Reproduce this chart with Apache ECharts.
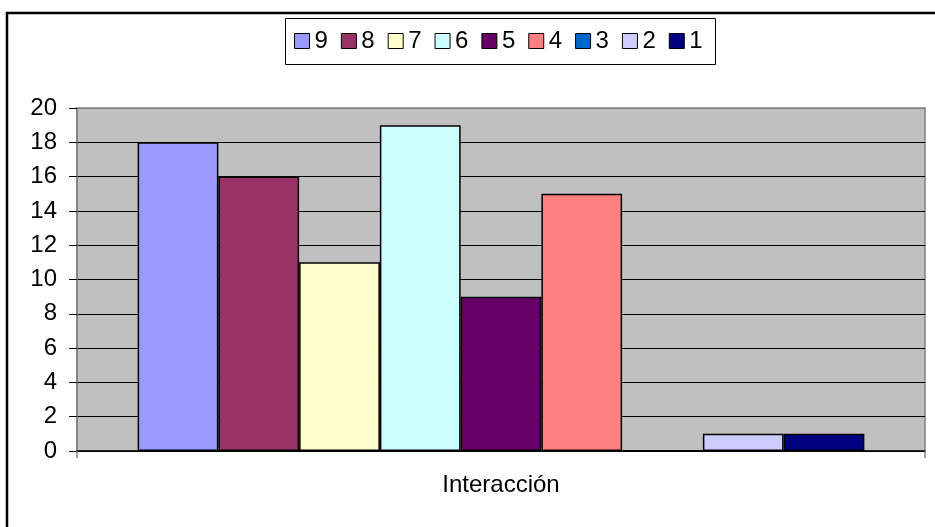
<!DOCTYPE html>
<html>
<head>
<meta charset="utf-8">
<script src="https://cdn.jsdelivr.net/npm/echarts@6/dist/echarts.min.js"></script>
<style>html,body{margin:0;padding:0;background:#fff}#c{width:935px;height:527px}</style>
</head>
<body>
<div id="c"></div>
<script>
var categories = ['Interacción'];
var seriesNames = ['9', '8', '7', '6', '5', '4', '3', '2', '1'];
var seriesValues = [18, 16, 11, 19, 9, 15, 0, 1, 1];
var seriesColors = ['#9999FF', '#993366', '#FFFFCC', '#CCFFFF', '#660066', '#FF8080', '#0066CC', '#CCCCFF', '#000080'];
var yTicks = [0, 2, 4, 6, 8, 10, 12, 14, 16, 18, 20];

var font = 'Liberation Sans, Arial, sans-serif';
var splitColors = yTicks.map(function (v, i) { return (i === yTicks.length - 1) ? '#808080' : '#000000'; });

var chart = echarts.init(document.getElementById('c'), null, {renderer: 'canvas'});
var series = seriesNames.map(function (n, i) {
  return {
    name: n,
    type: 'bar',
    data: [seriesValues[i]],
    barGap: '0%',
    barCategoryGap: '14.3%',
    itemStyle: {color: seriesColors[i], borderColor: '#000', borderWidth: 1.5},
    emphasis: {disabled: true},
    animation: false
  };
});
chart.setOption({
  animation: false,
  backgroundColor: '#fff',
  textStyle: {fontFamily: font},
  graphic: [
    {type: 'rect', shape: {x: 7, y: 13, width: 1200, height: 1200}, style: {fill: 'none', stroke: '#000', lineWidth: 2.5}, z: 100},
    {type: 'rect', shape: {x: 285.5, y: 18.5, width: 430, height: 46}, style: {fill: 'none', stroke: '#000', lineWidth: 1}, z: 100}
  ],
  legend: {
    data: seriesNames,
    left: 294,
    top: 29,
    padding: 0,
    itemWidth: 15,
    itemHeight: 15,
    itemGap: 13,
    icon: 'rect',
    itemStyle: {borderColor: '#000', borderWidth: 1},
    textStyle: {fontSize: 24, color: '#000', fontFamily: font, padding: [0, 0, 0, 0]},
    selectedMode: false
  },
  grid: {
    left: 77, right: 10, top: 108, bottom: 76,
    show: true, backgroundColor: '#C0C0C0', borderColor: '#808080', borderWidth: 1.5,
    containLabel: false
  },
  xAxis: {
    type: 'category',
    data: categories,
    axisLine: {show: true, lineStyle: {color: '#000', width: 1.5}},
    axisTick: {show: true, length: 7, lineStyle: {color: '#808080', width: 1.5}},
    axisLabel: {fontSize: 24, color: '#000', margin: 22, fontFamily: font},
    splitLine: {show: false}
  },
  yAxis: {
    type: 'value',
    min: 0, max: 20, interval: 2,
    axisLine: {show: true, lineStyle: {color: '#808080', width: 1.5}},
    axisTick: {show: true, length: 8, lineStyle: {color: '#000', width: 1}},
    axisLabel: {fontSize: 24, color: '#000', margin: 20, fontFamily: font},
    splitLine: {show: true, lineStyle: {color: splitColors, width: 1}}
  },
  series: series
});
</script>
</body>
</html>
